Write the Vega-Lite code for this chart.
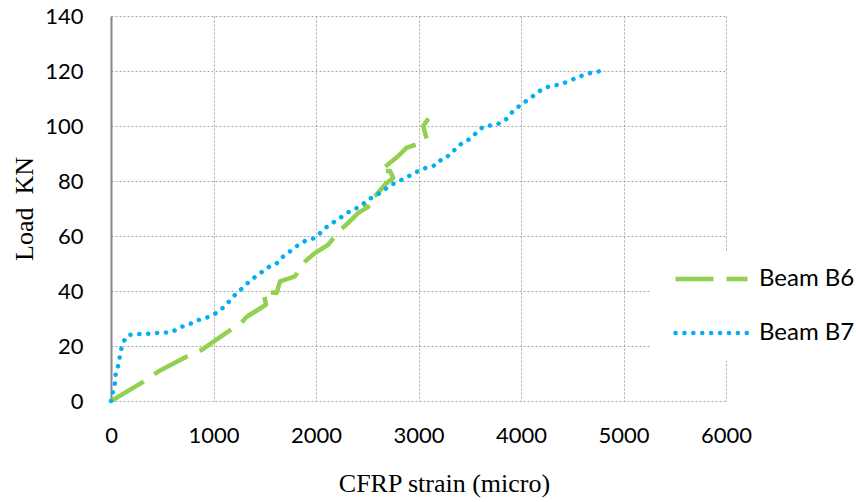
{
  "$schema": "https://vega.github.io/schema/vega-lite/v6.json",
  "width": 615,
  "height": 385,
  "autosize": "none",
  "padding": {"left": 111, "top": 16, "right": 130, "bottom": 101},
  "background": "white",
  "config": {"view": {"stroke": null}},
  "data": {"values": [
    {"series": "Beam B6", "i": 1, "strain": 0, "load": 0},
    {"series": "Beam B6", "i": 2, "strain": 340, "load": 7.5},
    {"series": "Beam B6", "i": 3, "strain": 460, "load": 10.7},
    {"series": "Beam B6", "i": 4, "strain": 740, "load": 16.2},
    {"series": "Beam B6", "i": 5, "strain": 885, "load": 18.6},
    {"series": "Beam B6", "i": 6, "strain": 1145, "load": 25.3},
    {"series": "Beam B6", "i": 7, "strain": 1275, "load": 28.5},
    {"series": "Beam B6", "i": 8, "strain": 1320, "load": 30.5},
    {"series": "Beam B6", "i": 9, "strain": 1340, "load": 31},
    {"series": "Beam B6", "i": 10, "strain": 1512, "load": 35},
    {"series": "Beam B6", "i": 11, "strain": 1486, "load": 39.8},
    {"series": "Beam B6", "i": 12, "strain": 1617, "load": 39.3},
    {"series": "Beam B6", "i": 13, "strain": 1649, "load": 43.5},
    {"series": "Beam B6", "i": 14, "strain": 1795, "load": 45.3},
    {"series": "Beam B6", "i": 15, "strain": 1876, "load": 50.2},
    {"series": "Beam B6", "i": 16, "strain": 1990, "load": 53.8},
    {"series": "Beam B6", "i": 17, "strain": 2120, "load": 56.9},
    {"series": "Beam B6", "i": 18, "strain": 2185, "load": 59.9},
    {"series": "Beam B6", "i": 19, "strain": 2218, "load": 61.7},
    {"series": "Beam B6", "i": 20, "strain": 2299, "load": 64.2},
    {"series": "Beam B6", "i": 21, "strain": 2413, "load": 68.4},
    {"series": "Beam B6", "i": 22, "strain": 2510, "load": 70.6},
    {"series": "Beam B6", "i": 23, "strain": 2478, "load": 71.1},
    {"series": "Beam B6", "i": 24, "strain": 2592, "load": 75.1},
    {"series": "Beam B6", "i": 25, "strain": 2673, "load": 78.7},
    {"series": "Beam B6", "i": 26, "strain": 2754, "load": 81.2},
    {"series": "Beam B6", "i": 27, "strain": 2722, "load": 83.6},
    {"series": "Beam B6", "i": 28, "strain": 2624, "load": 83.6},
    {"series": "Beam B6", "i": 29, "strain": 2803, "load": 89.1},
    {"series": "Beam B6", "i": 30, "strain": 2885, "load": 92.1},
    {"series": "Beam B6", "i": 31, "strain": 2982, "load": 93.3},
    {"series": "Beam B6", "i": 32, "strain": 3080, "load": 95.2},
    {"series": "Beam B6", "i": 33, "strain": 3047, "load": 100},
    {"series": "Beam B6", "i": 34, "strain": 3096, "load": 102.7},
    {"series": "Beam B7", "i": 1, "strain": 0, "load": 0},
    {"series": "Beam B7", "i": 2, "strain": 7, "load": 1},
    {"series": "Beam B7", "i": 3, "strain": 22, "load": 4},
    {"series": "Beam B7", "i": 4, "strain": 42, "load": 7},
    {"series": "Beam B7", "i": 5, "strain": 46, "load": 10},
    {"series": "Beam B7", "i": 6, "strain": 71, "load": 13},
    {"series": "Beam B7", "i": 7, "strain": 85, "load": 16},
    {"series": "Beam B7", "i": 8, "strain": 101, "load": 19},
    {"series": "Beam B7", "i": 9, "strain": 120, "load": 21.5},
    {"series": "Beam B7", "i": 10, "strain": 169, "load": 24},
    {"series": "Beam B7", "i": 11, "strain": 254, "load": 24.3},
    {"series": "Beam B7", "i": 12, "strain": 341, "load": 24.4},
    {"series": "Beam B7", "i": 13, "strain": 429, "load": 24.7},
    {"series": "Beam B7", "i": 14, "strain": 517, "load": 24.8},
    {"series": "Beam B7", "i": 15, "strain": 605, "load": 25.3},
    {"series": "Beam B7", "i": 16, "strain": 680, "load": 26.9},
    {"series": "Beam B7", "i": 17, "strain": 761, "load": 27.8},
    {"series": "Beam B7", "i": 18, "strain": 839, "load": 29.3},
    {"series": "Beam B7", "i": 19, "strain": 904, "load": 29.9},
    {"series": "Beam B7", "i": 20, "strain": 985, "load": 31.1},
    {"series": "Beam B7", "i": 21, "strain": 1060, "load": 32.7},
    {"series": "Beam B7", "i": 22, "strain": 1122, "load": 35},
    {"series": "Beam B7", "i": 23, "strain": 1180, "load": 37.3},
    {"series": "Beam B7", "i": 24, "strain": 1232, "load": 39.5},
    {"series": "Beam B7", "i": 25, "strain": 1285, "load": 41.1},
    {"series": "Beam B7", "i": 26, "strain": 1346, "load": 43.3},
    {"series": "Beam B7", "i": 27, "strain": 1415, "load": 45.4},
    {"series": "Beam B7", "i": 28, "strain": 1486, "load": 47.3},
    {"series": "Beam B7", "i": 29, "strain": 1558, "load": 49.2},
    {"series": "Beam B7", "i": 30, "strain": 1619, "load": 50.1},
    {"series": "Beam B7", "i": 31, "strain": 1678, "load": 52.5},
    {"series": "Beam B7", "i": 32, "strain": 1746, "load": 54.4},
    {"series": "Beam B7", "i": 33, "strain": 1815, "load": 56.4},
    {"series": "Beam B7", "i": 34, "strain": 1890, "load": 58.1},
    {"series": "Beam B7", "i": 35, "strain": 1974, "load": 59.1},
    {"series": "Beam B7", "i": 36, "strain": 2013, "load": 59.9},
    {"series": "Beam B7", "i": 37, "strain": 2068, "load": 62.3},
    {"series": "Beam B7", "i": 38, "strain": 2140, "load": 64.2},
    {"series": "Beam B7", "i": 39, "strain": 2212, "load": 66},
    {"series": "Beam B7", "i": 40, "strain": 2286, "load": 67.9},
    {"series": "Beam B7", "i": 41, "strain": 2358, "load": 69.7},
    {"series": "Beam B7", "i": 42, "strain": 2420, "load": 70.4},
    {"series": "Beam B7", "i": 43, "strain": 2485, "load": 72.5},
    {"series": "Beam B7", "i": 44, "strain": 2563, "load": 74.4},
    {"series": "Beam B7", "i": 45, "strain": 2637, "load": 75.9},
    {"series": "Beam B7", "i": 46, "strain": 2705, "load": 77.9},
    {"series": "Beam B7", "i": 47, "strain": 2780, "load": 79.5},
    {"series": "Beam B7", "i": 48, "strain": 2859, "load": 80.8},
    {"series": "Beam B7", "i": 49, "strain": 2937, "load": 82.4},
    {"series": "Beam B7", "i": 50, "strain": 3015, "load": 84},
    {"series": "Beam B7", "i": 51, "strain": 3096, "load": 85.1},
    {"series": "Beam B7", "i": 52, "strain": 3180, "load": 85.9},
    {"series": "Beam B7", "i": 53, "strain": 3232, "load": 88.3},
    {"series": "Beam B7", "i": 54, "strain": 3310, "load": 89.4},
    {"series": "Beam B7", "i": 55, "strain": 3366, "load": 92},
    {"series": "Beam B7", "i": 56, "strain": 3434, "load": 94},
    {"series": "Beam B7", "i": 57, "strain": 3512, "load": 95.5},
    {"series": "Beam B7", "i": 58, "strain": 3571, "load": 97.8},
    {"series": "Beam B7", "i": 59, "strain": 3636, "load": 99.9},
    {"series": "Beam B7", "i": 60, "strain": 3724, "load": 100.3},
    {"series": "Beam B7", "i": 61, "strain": 3805, "load": 101.1},
    {"series": "Beam B7", "i": 62, "strain": 3876, "load": 103.1},
    {"series": "Beam B7", "i": 63, "strain": 3925, "load": 105.6},
    {"series": "Beam B7", "i": 64, "strain": 3993, "load": 107.5},
    {"series": "Beam B7", "i": 65, "strain": 4065, "load": 109.5},
    {"series": "Beam B7", "i": 66, "strain": 4137, "load": 111.4},
    {"series": "Beam B7", "i": 67, "strain": 4208, "load": 113.5},
    {"series": "Beam B7", "i": 68, "strain": 4286, "load": 114.5},
    {"series": "Beam B7", "i": 69, "strain": 4371, "load": 115},
    {"series": "Beam B7", "i": 70, "strain": 4455, "load": 116.1},
    {"series": "Beam B7", "i": 71, "strain": 4533, "load": 117.4},
    {"series": "Beam B7", "i": 72, "strain": 4615, "load": 118.6},
    {"series": "Beam B7", "i": 73, "strain": 4699, "load": 119.5},
    {"series": "Beam B7", "i": 74, "strain": 4783, "load": 120}
  ]},
  "encoding": {
    "x": {
      "field": "strain", "type": "quantitative",
      "scale": {"domain": [0, 6000], "nice": false, "zero": false},
      "axis": {
        "title": "CFRP strain (micro)",
        "values": [0, 1000, 2000, 3000, 4000, 5000, 6000],
        "format": "d",
        "grid": true, "gridColor": "#a6a6a6", "gridDash": [2, 2], "gridWidth": 1,
        "domain": false, "ticks": false,
        "labelFont": "Lato", "labelFontSize": 22, "labelColor": "#000000", "labelPadding": 24,
        "labelFlush": false, "labelOverlap": false,
        "titleFont": "Liberation Serif", "titleFontSize": 26, "titleFontWeight": "normal", "titleColor": "#000000",
        "titleX": 333, "titleY": 82, "titleAlign": "center", "titleBaseline": "middle", "titleAnchor": null
      }
    },
    "y": {
      "field": "load", "type": "quantitative",
      "scale": {"domain": [0, 140], "nice": false},
      "axis": {
        "title": "Load\u00a0 KN",
        "values": [0, 20, 40, 60, 80, 100, 120, 140],
        "grid": true, "gridColor": "#a6a6a6", "gridDash": [2, 2], "gridWidth": 1,
        "domain": true, "domainColor": "#868686", "domainWidth": 2,
        "ticks": false,
        "labelFont": "Lato", "labelFontSize": 22, "labelColor": "#000000", "labelPadding": 28,
        "labelFlush": false, "labelOverlap": false,
        "titleFont": "Liberation Serif", "titleFontSize": 26, "titleFontWeight": "normal", "titleColor": "#000000",
        "titleX": -87, "titleY": 192.5, "titleAngle": -90, "titleAlign": "center", "titleBaseline": "middle"
      }
    },
    "color": {
      "field": "series", "type": "nominal",
      "scale": {"domain": ["Beam B6", "Beam B7"], "range": ["#92D050", "#00B0F0"]},
      "legend": {
        "title": null, "orient": "none", "legendX": 539, "legendY": 235,
        "fillColor": "white", "padding": 13,
        "symbolType": "stroke", "symbolSize": 5184, "symbolStrokeWidth": 4.5, "symbolOffset": 10,
        "labelOffset": 9, "labelFont": "Lato", "labelFontSize": 24, "labelColor": "#000000",
        "clipHeight": 30, "rowPadding": 24,
        "encode": {"symbols": {"update": {"strokeCap": {"signal": "datum.value === 'Beam B7' ? 'round' : 'butt'"}}}}
      }
    },
    "strokeDash": {
      "field": "series", "type": "nominal",
      "scale": {"domain": ["Beam B6", "Beam B7"], "range": [[38, 13], [0.1, 8.8]]},
      "legend": {
        "title": null, "orient": "none", "legendX": 539, "legendY": 235,
        "fillColor": "white", "padding": 13,
        "symbolType": "stroke", "symbolSize": 5184, "symbolStrokeWidth": 4.5, "symbolOffset": 10,
        "labelOffset": 9, "labelFont": "Lato", "labelFontSize": 24, "labelColor": "#000000",
        "clipHeight": 30, "rowPadding": 24,
        "encode": {"symbols": {"update": {"strokeCap": {"signal": "datum.value === 'Beam B7' ? 'round' : 'butt'"}}}}
      }
    },
    "order": {"field": "i", "type": "quantitative"}
  },
  "layer": [
    {
      "transform": [{"filter": "datum.series === 'Beam B6'"}],
      "mark": {"type": "line", "strokeWidth": 4.5, "strokeCap": "butt", "strokeJoin": "round"}
    },
    {
      "transform": [{"filter": "datum.series === 'Beam B7'"}],
      "mark": {"type": "line", "strokeWidth": 4.5, "strokeCap": "round", "strokeJoin": "round"}
    }
  ]
}
